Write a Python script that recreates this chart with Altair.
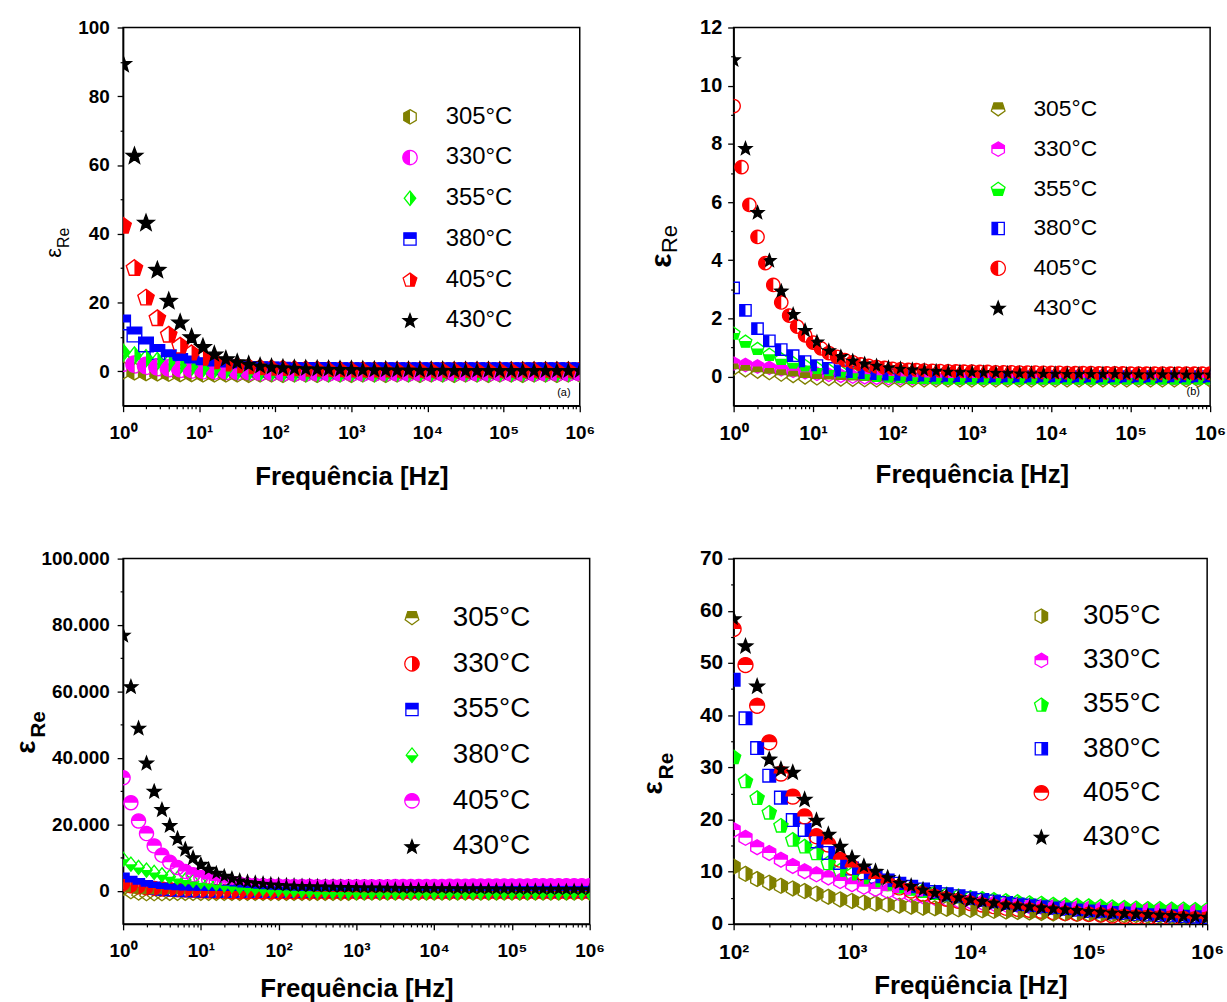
import math
import altair as alt
import pandas as pd

# ---------------- data ----------------
TEMPS = ["305°C", "330°C", "355°C", "380°C", "405°C", "430°C"]

# frequency grids [Hz]
F15 = [1, 1.41, 2.0, 2.82, 3.98, 5.62, 7.94, 11.2, 15.8, 22.4,
       31.6, 44.7, 63.1, 89.1, 126, 178, 251, 355, 501, 708,
       1000, 1410, 2000, 2820, 3980, 5620, 7940, 11200, 15800, 22400,
       31600, 44700, 63100, 89100, 126000, 178000, 251000, 355000, 501000, 708000,
       1000000]
F10 = [1, 1.26, 1.58, 2.0, 2.51, 3.16, 3.98, 5.01, 6.31, 7.94,
       10, 12.6, 15.8, 20.0, 25.1, 31.6, 39.8, 50.1, 63.1, 79.4,
       100, 126, 158, 200, 251, 316, 398, 501, 631, 794,
       1000, 1260, 1580, 2000, 2510, 3160, 3980, 5010, 6310, 7940,
       10000, 12600, 15800, 20000, 25100, 31600, 39800, 50100, 63100, 79400,
       100000, 126000, 158000, 200000, 251000, 316000, 398000, 501000, 631000, 794000,
       1000000]
FD = [100, 126, 158, 200, 251, 316, 398, 501, 631, 794,
      1000, 1260, 1580, 2000, 2510, 3160, 3980, 5010, 6310, 7940,
      10000, 12600, 15800, 20000, 25100, 31600, 39800, 50100, 63100, 79400,
      100000, 126000, 158000, 200000, 251000, 316000, 398000, 501000, 631000, 794000,
      1000000]

# panel (a)
A305 = [0.3, 0.0, -0.2, -0.3, -0.4, -0.5, -0.5, -0.6, -0.6, -0.6,
        -0.6, -0.7, -0.6, -0.6, -0.7, -0.6, -0.6, -0.7, -0.6, -0.6,
        -0.7, -0.6, -0.6, -0.7, -0.6, -0.6, -0.7, -0.6, -0.6, -0.7,
        -0.6, -0.6, -0.7, -0.6, -0.6, -0.7, -0.6, -0.6, -0.7, -0.6,
        -0.6]
A330 = [2.5, 2.0, 1.6, 1.2, 0.9, 0.7, 0.5, 0.3, 0.2, 0.1,
        0.0, -0.1, -0.2, -0.2, -0.3, -0.3, -0.3, -0.3, -0.3, -0.3,
        -0.3, -0.3, -0.3, -0.3, -0.3, -0.3, -0.3, -0.3, -0.3, -0.3,
        -0.3, -0.3, -0.3, -0.3, -0.3, -0.3, -0.3, -0.3, -0.3, -0.3,
        -0.3]
A355 = [5.5, 4.6, 3.8, 3.0, 2.4, 1.8, 1.3, 0.9, 0.6, 0.3,
        0.1, -0.1, -0.2, -0.3, -0.4, -0.4, -0.5, -0.5, -0.5, -0.5,
        -0.5, -0.4, -0.5, -0.5, -0.4, -0.5, -0.5, -0.4, -0.5, -0.5,
        -0.4, -0.5, -0.5, -0.4, -0.5, -0.5, -0.4, -0.5, -0.5, -0.4,
        -0.5]
A380 = [14.2, 10.7, 7.8, 5.6, 4.1, 3.0, 2.3, 1.8, 1.4, 1.1,
        0.9, 0.7, 0.6, 0.5, 0.45, 0.4, 0.4, 0.35, 0.35, 0.3,
        0.3, 0.3, 0.3, 0.3, 0.3, 0.3, 0.3, 0.3, 0.3, 0.3,
        0.3, 0.3, 0.3, 0.3, 0.3, 0.3, 0.3, 0.3, 0.3, 0.3,
        0.3]
A405 = [42.5, 30.2, 21.6, 15.6, 10.8, 7.6, 5.4, 3.9, 2.9, 2.2,
        1.7, 1.4, 1.15, 1.0, 0.9, 0.8, 0.7, 0.65, 0.6, 0.55,
        0.5, 0.5, 0.45, 0.45, 0.4, 0.4, 0.4, 0.4, 0.4, 0.4,
        0.4, 0.4, 0.4, 0.4, 0.4, 0.4, 0.4, 0.4, 0.4, 0.4,
        0.4]
A430 = [89.5, 62.8, 43.3, 29.6, 20.6, 14.3, 10.0, 7.2, 5.0, 3.6,
        2.7, 2.1, 1.6, 1.3, 1.1, 0.95, 0.85, 0.75, 0.7, 0.65,
        0.6, 0.55, 0.5, 0.5, 0.45, 0.45, 0.4, 0.4, 0.4, 0.35,
        0.35, 0.35, 0.35, 0.3, 0.3, 0.3, 0.3, 0.3, 0.3, 0.3,
        0.3]

# panel (b)
B305 = [0.25, 0.2, 0.15, 0.1, 0.05, 0.0, -0.05, -0.08, -0.1, -0.12,
        -0.13, -0.14, -0.15, -0.15, -0.15, -0.15, -0.15, -0.15, -0.15, -0.15,
        -0.15, -0.15, -0.15, -0.15, -0.15, -0.15, -0.15, -0.15, -0.15, -0.15,
        -0.15, -0.15, -0.15, -0.15, -0.15, -0.15, -0.15, -0.15, -0.15, -0.15,
        -0.15]
B330 = [0.45, 0.4, 0.35, 0.3, 0.25, 0.2, 0.15, 0.1, 0.06, 0.03,
        0.0, -0.02, -0.04, -0.05, -0.05, -0.05, -0.05, -0.05, -0.05, -0.05,
        -0.05, -0.05, -0.05, -0.05, -0.05, -0.05, -0.05, -0.05, -0.05, -0.05,
        -0.05, -0.05, -0.05, -0.05, -0.05, -0.05, -0.05, -0.05, -0.05, -0.05,
        -0.05]
B355 = [1.5, 1.22, 0.97, 0.77, 0.61, 0.48, 0.38, 0.3, 0.23, 0.17,
        0.12, 0.08, 0.05, 0.02, 0.0, -0.02, -0.03, -0.04, -0.05, -0.05,
        -0.05, -0.05, -0.05, -0.05, -0.05, -0.05, -0.05, -0.05, -0.05, -0.05,
        -0.05, -0.05, -0.05, -0.05, -0.05, -0.05, -0.05, -0.05, -0.05, -0.05,
        -0.05]
B380 = [3.05, 2.28, 1.65, 1.23, 0.93, 0.72, 0.52, 0.38, 0.28, 0.2,
        0.15, 0.11, 0.08, 0.06, 0.05, 0.04, 0.03, 0.02, 0.02, 0.01,
        0.01, 0.0, 0.0, 0.0, 0.0, 0.0, 0.0, 0.0, 0.0, 0.0,
        0.0, 0.0, 0.0, 0.0, 0.0, 0.0, 0.0, 0.0, 0.0, 0.0,
        0.0]
B405 = [9.3, 7.2, 5.9, 4.8, 3.9, 3.15, 2.55, 2.1, 1.72, 1.42,
        1.17, 0.97, 0.81, 0.68, 0.57, 0.49, 0.42, 0.37, 0.33, 0.3,
        0.27, 0.25, 0.23, 0.22, 0.21, 0.2, 0.19, 0.18, 0.18, 0.17,
        0.17, 0.16, 0.16, 0.15, 0.15, 0.15, 0.14, 0.14, 0.14, 0.13,
        0.13, 0.13, 0.12, 0.12, 0.12, 0.12, 0.11, 0.11, 0.11, 0.11,
        0.1, 0.1, 0.1, 0.1, 0.1, 0.1, 0.1, 0.1, 0.1, 0.1,
        0.1]
B430 = [10.9, 7.85, 5.65, 4.0, 2.95, 2.15, 1.6, 1.2, 0.9, 0.7,
        0.55, 0.45, 0.38, 0.32, 0.28, 0.25, 0.22, 0.2, 0.18, 0.17,
        0.16, 0.15, 0.14, 0.13, 0.12, 0.12, 0.11, 0.11, 0.1, 0.1,
        0.1, 0.1, 0.1, 0.09, 0.09, 0.09, 0.09, 0.09, 0.08, 0.08,
        0.08]

# panel (c)
C305 = [500, -500, -900, -1100, -1100, -1100, -1000, -1000, -1000, -1000,
        -1000, -1000, -1000, -1000, -1000, -1000, -1000, -1000, -1000, -1000,
        -1000, -1000, -1000, -1000, -1000, -1000, -1000, -1000, -1000, -1000,
        -900, -900, -900, -900, -900, -900, -900, -900, -900, -900,
        -900, -900, -900, -900, -900, -900, -900, -900, -900, -900,
        -900, -900, -900, -900, -900, -900, -900, -900, -900, -900,
        -900]
C330 = [2000, 1500, 1200, 900, 700, 500, 400, 300, 200, 100,
        0, -100, -200, -200, -300, -300, -300, -300, -300, -300,
        -300, -300, -300, -300, -300, -300, -300, -300, -300, -300,
        -300, -300, -300, -300, -300, -300, -300, -300, -300, -300,
        -300, -300, -300, -300, -300, -300, -300, -300, -300, -300,
        -300, -300, -300, -300, -300, -300, -300, -300, -300, -300,
        -300]
C355 = [3500, 2500, 1800, 1200, 800, 500, 300, 150, 50, 0,
        -50, -100, -100, -100, -100, -100, -100, -100, -100, -100,
        -100, -100, -100, -100, -100, -100, -100, -100, -100, -100,
        -100, -100, -100, -100, -100, -100, -100, -100, -100, -100,
        -100, -100, -100, -100, -100, -100, -100, -100, -100, -100,
        -100, -100, -100, -100, -100, -100, -100, -100, -100, -100,
        -100]
C380 = [9500, 8000, 7000, 6200, 5500, 4800, 4200, 3700, 3200, 2800,
        2400, 2100, 1800, 1500, 1250, 1000, 800, 600, 450, 300,
        200, 100, 0, -100, -200, -300, -300, -400, -400, -400,
        -500, -500, -500, -500, -500, -500, -500, -500, -500, -500,
        -500, -500, -500, -500, -500, -500, -500, -500, -500, -500,
        -500, -500, -500, -500, -500, -500, -500, -500, -500, -500,
        -500]
C405 = [34000, 26500, 21000, 17200, 13500, 10700, 8600, 7000, 5800, 4800,
        4000, 3400, 2900, 2500, 2200, 1950, 1750, 1600, 1500, 1400,
        1350, 1300, 1300, 1250, 1250, 1200, 1200, 1200, 1200, 1200,
        1200, 1200, 1200, 1200, 1200, 1250, 1250, 1250, 1300, 1300,
        1300, 1300, 1350, 1350, 1350, 1400, 1400, 1400, 1400, 1450,
        1450, 1450, 1450, 1500, 1500, 1500, 1500, 1500, 1500, 1500,
        1500]
C430 = [77000, 61500, 49000, 38500, 30000, 24500, 19700, 15800, 12600, 10000,
        8000, 6500, 5300, 4400, 3700, 3100, 2700, 2400, 2150, 1950,
        1800, 1650, 1550, 1450, 1400, 1350, 1300, 1250, 1200, 1150,
        1100, 1050, 1000, 1000, 950, 950, 900, 900, 850, 850,
        800, 800, 800, 750, 750, 700, 700, 700, 650, 650,
        650, 600, 600, 600, 600, 550, 550, 550, 550, 500,
        500]

# panel (d)
D305 = [11.0, 9.6, 8.6, 7.9, 7.3, 6.8, 6.3, 5.8, 5.2, 4.7,
        4.4, 4.1, 3.9, 3.7, 3.5, 3.3, 3.1, 3.0, 2.9, 2.8,
        2.7, 2.6, 2.5, 2.4, 2.3, 2.2, 2.1, 2.0, 2.0, 1.9,
        1.9, 1.8, 1.8, 1.7, 1.7, 1.6, 1.6, 1.5, 1.5, 1.5,
        1.4]
D330 = [18.0, 16.5, 14.7, 13.6, 12.3, 11.1, 10.1, 9.5, 8.9, 8.2,
        7.6, 7.1, 6.7, 6.3, 5.9, 5.6, 5.3, 5.0, 4.8, 4.5,
        4.3, 4.1, 3.9, 3.7, 3.6, 3.4, 3.3, 3.2, 3.1, 3.0,
        2.9, 2.8, 2.7, 2.7, 2.6, 2.6, 2.5, 2.5, 2.4, 2.4,
        2.3]
D355 = [32.0, 27.4, 24.2, 21.4, 18.9, 16.2, 14.9, 13.6, 11.7, 10.3,
        9.6, 8.9, 8.3, 7.7, 7.2, 6.8, 6.4, 6.0, 5.7, 5.4,
        5.1, 4.9, 4.7, 4.5, 4.3, 4.1, 4.0, 3.8, 3.7, 3.6,
        3.5, 3.4, 3.3, 3.2, 3.1, 3.0, 3.0, 2.9, 2.9, 2.8,
        2.8]
D380 = [46.8, 39.4, 33.7, 28.4, 24.2, 19.9, 18.0, 15.8, 13.6, 11.7,
        10.6, 9.7, 9.0, 8.3, 7.7, 7.1, 6.6, 6.1, 5.7, 5.3,
        4.9, 4.6, 4.3, 4.0, 3.7, 3.5, 3.3, 3.1, 2.9, 2.7,
        2.5, 2.4, 2.2, 2.1, 1.9, 1.8, 1.7, 1.6, 1.5, 1.4,
        1.3]
D405 = [56.5, 49.6, 41.8, 34.8, 28.8, 24.4, 20.6, 16.8, 15.2, 12.3,
        10.8, 9.6, 8.6, 7.8, 7.0, 6.4, 5.8, 5.3, 4.8, 4.4,
        4.0, 3.7, 3.4, 3.1, 2.9, 2.7, 2.5, 2.3, 2.1, 2.0,
        1.9, 1.8, 1.6, 1.5, 1.4, 1.3, 1.2, 1.2, 1.1, 1.0,
        1.0]
D430 = [58.5, 53.3, 45.6, 31.6, 29.7, 29.1, 23.9, 19.9, 17.2, 14.9,
        12.7, 11.1, 10.1, 8.9, 7.9, 7.3, 6.6, 6.0, 5.5, 5.1,
        4.7, 4.4, 4.1, 3.8, 3.6, 3.4, 3.2, 3.0, 2.8, 2.7,
        2.5, 2.4, 2.2, 2.1, 2.0, 1.9, 1.8, 1.7, 1.6, 1.5,
        1.4]

# ---------------- marker geometry ----------------
OLIVE, MAG, GRN, BLU, RED, BLK = "#808000", "#ff00ff", "#00ff00", "#0000ff", "#ff0000", "#000000"


def regular(n, rot):
    return [(math.cos(math.radians(rot + 360.0 * k / n)),
             math.sin(math.radians(rot + 360.0 * k / n))) for k in range(n)]


def base_shape(name):
    if name == "circle":
        return regular(24, 0)
    if name == "hex":
        return regular(6, -90)
    if name == "square":
        return [(-0.85, -0.85), (0.85, -0.85), (0.85, 0.85), (-0.85, 0.85)]
    if name == "diamond":
        return [(0, -1), (0.8, 0), (0, 1), (-0.8, 0)]
    if name == "pent":
        return [(x, y + 0.095) for x, y in regular(5, -90)]
    if name == "ipent":
        return [(x, y - 0.095) for x, y in regular(5, 90)]
    if name == "star":
        pts = []
        for k in range(10):
            r = 1.0 if k % 2 == 0 else 0.42
            a = math.radians(-90 + 36 * k)
            pts.append((r * math.cos(a), r * math.sin(a) + 0.08))
        return pts
    raise ValueError(name)


def clip_half(pts, side):
    if side == "A":
        return pts

    def inside(p):
        x, y = p
        return {"L": x <= 1e-9, "R": x >= -1e-9, "T": y <= 1e-9, "B": y >= -1e-9}[side]

    def cross(p, q):
        (x1, y1), (x2, y2) = p, q
        t = (0 - x1) / (x2 - x1) if side in "LR" else (0 - y1) / (y2 - y1)
        return (x1 + t * (x2 - x1), y1 + t * (y2 - y1))

    out = []
    for i in range(len(pts)):
        cur, prev = pts[i], pts[i - 1]
        if inside(cur):
            if not inside(prev):
                out.append(cross(prev, cur))
            out.append(cur)
        elif inside(prev):
            out.append(cross(prev, cur))
    return out


def to_path(pts):
    return "M" + "L".join(f"{x:.3f},{y:.3f}" for x, y in pts) + "Z"


SUP = {0: "⁰", 1: "¹", 2: "²", 3: "³", 4: "⁴", 5: "⁵", 6: "⁶"}
FONT = "Liberation Sans, Arial, sans-serif"


def x_label_expr(decades):
    parts = []
    for d in decades[:-1]:
        parts.append(f"datum.value < {1.5 * 10 ** d} ? '10{SUP[d]}' : ")
    return "".join(parts) + f"'10{SUP[decades[-1]]}'"


def panel(series, colors, shapes, xdec, ydom, ymajor, yminor, ylabel_expr, w, h,
          size, label_font, legend, xtitle, eps, re, tag=None):
    rows = []
    for i, (name, (freqs, vals)) in enumerate(zip(TEMPS, series)):
        assert len(freqs) == len(vals), (name, len(freqs), len(vals))
        for f, v in zip(freqs, vals):
            rows.append({"f": f, "v": v, "s": name, "o": i})
    df = pd.DataFrame(rows)

    xdom = [10 ** xdec[0], 10 ** xdec[-1]]
    xs = alt.Scale(type="log", domain=xdom, nice=False)
    ys = alt.Scale(domain=ydom, nice=False, zero=False)
    outline_paths = [to_path(base_shape(s)) for s, _ in shapes]
    fill_paths = [to_path(clip_half(base_shape(s), side)) for s, side in shapes]
    xminor = [m * 10 ** d for d in xdec[:-1] for m in range(2, 10)]

    ax_common = dict(domainColor="black", domainWidth=1.5, tickColor="black", tickWidth=1.3,
                     grid=False, labelFont=label_font[0], labelFontSize=label_font[1],
                     labelFontWeight=label_font[2], labelColor="black")
    xaxis = alt.Axis(values=[10 ** d for d in xdec], labelExpr=x_label_expr(xdec), orient="bottom",
                     labelFlush=False, labelOverlap=False, tickSize=6, labelPadding=12,
                     title=xtitle[0], titleFont=FONT, titleFontSize=26, titleFontWeight="bold",
                     titleColor="black", titlePadding=xtitle[1], **ax_common)
    yaxis_kw = dict(values=ymajor, orient="left", labelFlush=False, labelOverlap=False, tickSize=6,
                    labelPadding=label_font[3], title=None, **ax_common)
    if ylabel_expr:
        yaxis_kw["labelExpr"] = ylabel_expr
    yaxis = alt.Axis(**yaxis_kw)

    lg = dict(orient="none", legendX=legend["x"], legendY=legend["y"], title=None, padding=0,
              labelFont=legend["font"], labelFontSize=legend["fs"], labelColor="black",
              labelOffset=legend["off"], rowPadding=legend["rp"], symbolSize=210,
              labelBaseline="middle")
    leg_out = alt.Legend(symbolStrokeWidth=1.3, **lg)
    leg_fill = alt.Legend(symbolStrokeWidth=0, labelOpacity=0, **lg)

    outline = alt.Chart(df).mark_point(filled=False, size=size, strokeWidth=1.4, opacity=1,
                                       clip=True).encode(
        x=alt.X("f:Q", scale=xs, axis=xaxis),
        y=alt.Y("v:Q", scale=ys, axis=yaxis),
        stroke=alt.Stroke("s:N", scale=alt.Scale(domain=TEMPS, range=colors), legend=leg_out),
        shape=alt.Shape("s:N", scale=alt.Scale(domain=TEMPS, range=outline_paths), legend=leg_out),
        order=alt.Order("o:Q"),
    )
    filled = alt.Chart(df).mark_point(filled=True, size=size, strokeWidth=0, opacity=1,
                                      clip=True).encode(
        x=alt.X("f:Q", scale=xs, axis=None),
        y=alt.Y("v:Q", scale=ys, axis=None),
        fill=alt.Fill("s:N", scale=alt.Scale(domain=TEMPS, range=colors), legend=leg_fill),
        shape=alt.Shape("s:N", scale=alt.Scale(domain=TEMPS, range=fill_paths), legend=leg_fill),
        order=alt.Order("o:Q"),
    )
    minor = alt.Chart(df).mark_point(opacity=0).encode(
        x=alt.X("f:Q", scale=xs, axis=alt.Axis(values=xminor, orient="bottom", labels=False,
                                               domain=False, tickSize=3, tickColor="black",
                                               tickWidth=1.2, grid=False, title=None)),
        y=alt.Y("v:Q", scale=ys, axis=alt.Axis(values=yminor, orient="left", labels=False,
                                               domain=False, tickSize=3, tickColor="black",
                                               tickWidth=1.2, grid=False, title=None)),
    )

    def txt(t, x, y, fs, weight="normal"):
        return alt.Chart(pd.DataFrame({"t": [t]})).mark_text(
            font=FONT, fontSize=fs, fontWeight=weight, angle=270, align="center",
            baseline="middle", color="black").encode(
            x=alt.value(x), y=alt.value(y), text="t:N")

    layers = [outline, filled, minor,
              txt("ε", eps[0], eps[1], eps[2], eps[3]),
              txt("Re", re[0], re[1], re[2], re[3])]
    if tag:
        layers.append(alt.Chart(pd.DataFrame({"t": [tag[0]]})).mark_text(
            font=FONT, fontSize=11, color="black", align="center", baseline="middle").encode(
            x=alt.value(tag[1]), y=alt.value(tag[2]), text="t:N"))

    return alt.layer(*layers).resolve_scale(
        shape="independent", stroke="independent", fill="independent"
    ).resolve_axis(x="independent", y="independent").resolve_legend(
        shape="independent", stroke="independent", fill="independent"
    ).properties(width=w, height=h)


pa = panel(
    [(F15, A305), (F15, A330), (F15, A355), (F15, A380), (F15, A405), (F15, A430)],
    [OLIVE, MAG, GRN, BLU, RED, BLK],
    [("hex", "L"), ("circle", "L"), ("diamond", "R"), ("square", "T"), ("pent", "R"), ("star", "A")],
    [0, 1, 2, 3, 4, 5, 6], [-10, 100], [0, 20, 40, 60, 80, 100], [10, 30, 50, 70, 90], None,
    460, 381, 300, (FONT, 19, "bold", 8),
    dict(x=277, y=78, font=FONT, fs=24, off=24, rp=17),
    ("Frequência [Hz]", 21), (-70, 227, 22, "normal"), (-59, 212, 16, "normal"), ("(a)", 444, 368))

pb = panel(
    [(F15, B305), (F15, B330), (F15, B355), (F15, B380), (F10, B405), (F15, B430)],
    [OLIVE, MAG, GRN, BLU, RED, BLK],
    [("ipent", "T"), ("hex", "T"), ("pent", "B"), ("square", "L"), ("circle", "L"), ("star", "A")],
    [0, 1, 2, 3, 4, 5, 6], [-1, 12], [0, 2, 4, 6, 8, 10, 12], [1, 3, 5, 7, 9, 11], None,
    480, 381, 180, (FONT, 20, "bold", 6),
    dict(x=255, y=71, font=FONT, fs=23, off=24, rp=16),
    ("Frequência [Hz]", 18), (-72, 235, 30, "bold"), (-64, 213, 22, "normal"), ("(b)", 463, 367))

pc = panel(
    [(F10, C305), (F10, C330), (F10, C355), (F10, C380), (F10, C405), (F10, C430)],
    [OLIVE, RED, BLU, GRN, MAG, BLK],
    [("ipent", "T"), ("circle", "R"), ("square", "T"), ("diamond", "B"), ("circle", "T"), ("star", "A")],
    [0, 1, 2, 3, 4, 5, 6], [-10000, 100000], [0, 20000, 40000, 60000, 80000, 100000],
    [10000, 30000, 50000, 70000, 90000],
    "datum.value == 0 ? '0' : replace(format(datum.value, ','), ',', '.')",
    470, 368, 200, (FONT, 19, "bold", 8),
    dict(x=277, y=46, font=FONT, fs=28, off=27, rp=18),
    ("Frequência [Hz]", 15), (-97, 190, 28, "bold"), (-85, 167, 21, "bold"))

pd_ = panel(
    [(FD, D305), (FD, D330), (FD, D355), (FD, D380), (FD, D405), (FD, D430)],
    [OLIVE, MAG, GRN, BLU, RED, BLK],
    [("hex", "R"), ("hex", "T"), ("pent", "R"), ("square", "R"), ("circle", "T"), ("star", "A")],
    [2, 3, 4, 5, 6], [0, 70], [0, 10, 20, 30, 40, 50, 60, 70], [5, 15, 25, 35, 45, 55, 65], None,
    477, 368, 225, (FONT, 21, "bold", 5),
    dict(x=296, y=44, font=FONT, fs=28, off=28, rp=16.5),
    ("Freqüência [Hz]", 10), (-80, 231, 28, "bold"), (-67, 209, 21, "bold"))

res = dict(x="independent", y="independent", shape="independent", stroke="independent",
           fill="independent")
chart = alt.concat(
    pa, pb, pc, pd_, columns=2, spacing={"row": 154, "column": 145}, bounds="flush", align="none"
).resolve_scale(**res).resolve_legend(shape="independent", stroke="independent",
                                      fill="independent").properties(
    padding={"left": 12, "top": 13, "right": 0, "bottom": 0}, background="white"
).configure_view(stroke="black", strokeWidth=1.5)

chart.save("out.html", embed_options={"renderer": "svg", "actions": False})
